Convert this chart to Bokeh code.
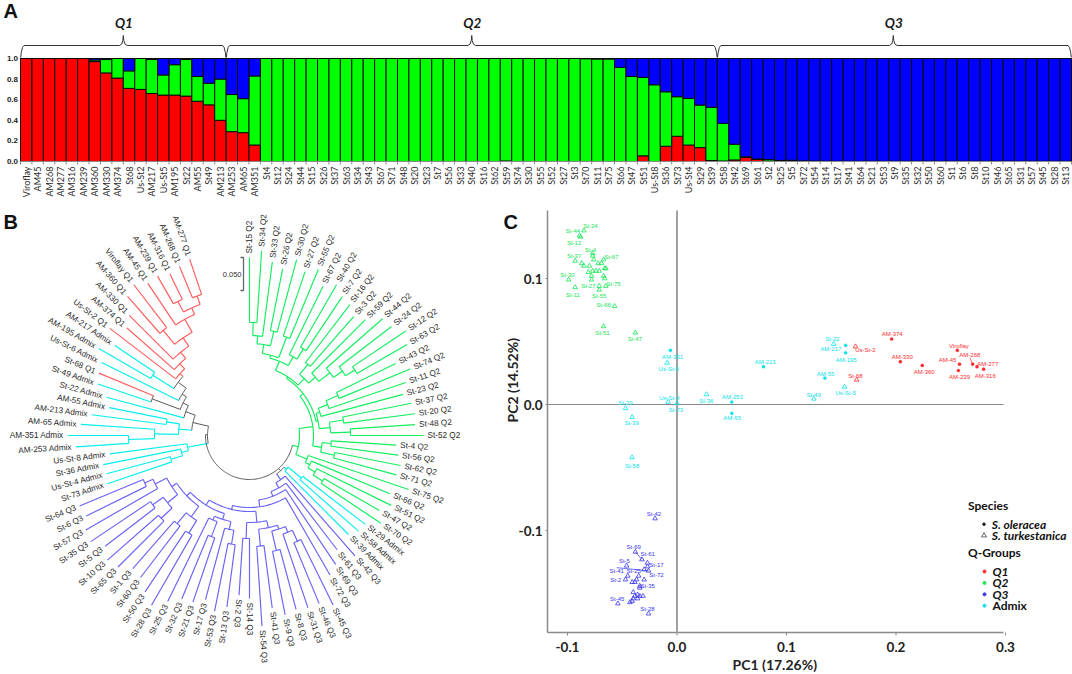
import math
from bokeh.plotting import figure
from bokeh.layouts import column, row
from bokeh.models import Range1d
from bokeh.core.properties import value
from bokeh.embed import file_html
from bokeh.resources import INLINE

# ---------- Panel A data ----------
acc_names = ["Viroflay","AM45","AM268","AM277","AM316","AM239","AM360","AM330","AM374","St68","Us-St2","AM217","Us-St5","AM195","St22","AM55","St49","AM213","AM253","AM65","AM351",
 "St4","St12","St24","St44","St15","St26","St37","St63","St34","St43","St67","St71","St48","St20","St23","St7","St56","St33","St40","St16","St62","St59","St74","St30","St55","St52","St27","St3","St70","St11","St75","St66","St47","St51","Us-St8","St36","St73","Us-St4","St29","St39",
 "St58","St42","St69","St61","St2","St25","St5","St72","St54","St14","St17","St41","St64","St21","St53","St9","St35","St32","St50","St60","St1","St6","St8","St10","St46","St65","St31","St57","St45","St28","St13"]
q1_frac = [1,1,1,1,1,1,.97,.86,.81,.71,.70,.66,.645,.645,.635,.585,.55,.40,.29,.28,.16] + [0]*21 + [.005,0,0,0,0,0,0,0,0,0,0,0,.055,0,.148,.245,.16,.135,.01,.005,.015,.04,.02,.005,0,.005,0] + [0]*24
q12_top = [1,1,1,1,1,1,.985,.99,1,.88,1,.99,.84,.94,.99,.825,.76,.80,.65,.61,.83] + [1]*28 + [.998,.995,.995,.913,.826,.816,.745,.677,.629,.613,.548,.526,.37,.168,.045,.025,.02,.01,.012,.006,.004,.003] + [.002]*21
y_ticks_a = [0.0, 0.2, 0.4, 0.6, 0.8, 1.0]
q_names = ["Q1","Q2","Q3"]
brace_start = [-0.5, 17.5, 60.5]
brace_end = [17.5, 60.5, 91.5]
brace_peak = [8.5, 39.0, 75.9]

# ---------- Panel B data ----------
leaf_names = ["St-15","St-34","St-33","St-26","St-30","St-27","St-55","St-67","St-40","St-7","St-16","St-3","St-59","St-44","St-24","St-12","St-63","St-43","St-74","St-11","St-23","St-37","St-20","St-48","St-52","St-4","St-56","St-62","St-71","St-75","St-66","St-51","St-47","St-70",
 "St-29","St-58","St-39",
 "St-42","St-61","St-69","St-72","St-45","St-46","St-31","St-8","St-9","St-41","St-54","St-14","St-2","St-13","St-53","St-17","St-21","St-32","St-25","St-28","St-50","St-60","St-1","St-65","St-10","St-5","St-35","St-57","St-6","St-64",
 "St-73","Us-St-4","St-36","Us-St-8","AM-253","AM-351","AM-65","AM-213","AM-55","St-22","St-49","St-68","Us-St-6","AM-195","AM-217","Us-St-2","AM-374","AM-330","AM-360","Viroflay","AM-45","AM-239","AM-316","AM-268","AM-277"]
leaf_groups = ["Q2"]*34 + ["Admix"]*3 + ["Q3"]*30 + ["Admix"]*10 + ["Admix","Q1","Admix","Admix","Admix","Q1"] + ["Q1"]*9
leaf_tip = [178,185,175,170,182,173,180,166,174,167,165,158,164,177,179,188,182,163,174,165,159,165,167,166,174,147,150,154,152,168,152,158,150,158,
 146,145,140,
 160,144,155,161,189,182,182,180,183,174,191,163,160,173,179,170,176,177,185,196,188,179,177,186,189,182,191,189,182,184,
 150,148,149,141,174,182,169,159,143,148,160,163,165,174,162,176,163,170,185,190,183,184,180,183,186]

def N(r, *kids, theta=None):
    return {"r": r, "kids": kids, "theta": theta}

t4 = N(92, N(100, N(113, "St-15", "St-34"), "St-33"), N(107, "St-26", "St-30"))
t9 = N(80, N(83, t4, N(105, "St-27", "St-55")), N(90, "St-67", N(102, "St-40", "St-7")))
u6 = N(79, N(92, "St-16", "St-3"), N(88, "St-59", N(102, "St-44", N(113, "St-24", N(124, "St-12", "St-63")))))
w7 = N(70, N(74, N(84, N(97, "St-43", "St-74"), "St-11"), "St-23"), N(81, N(95, "St-37", "St-20"), N(101, "St-48", "St-52")))
y3 = N(73, N(82, "St-4", "St-56"), N(87, "St-62", "St-71"))
z4 = N(62, "St-75", N(67, "St-66", N(75, "St-51", N(86, "St-47", "St-70"))))
green = N(50, N(64, N(68, N(70, t9, u6), w7, theta=52), y3, theta=82), z4, theta=103)

admix_a = N(50, N(67, "St-29", "St-58"), "St-39")
q_b = N(87, N(94, N(98, N(104, N(116, "St-45", "St-46"), "St-31"), N(118, "St-8", "St-9")), N(111, "St-41", "St-54")), N(103, "St-14", "St-2"))
q_a = N(100, N(115, "St-28", "St-50"), N(114, "St-60", "St-1"))
q_d = N(106, N(121, "St-65", "St-10"), N(119, "St-5", "St-35"))
q_e = N(106, "St-57", N(115, "St-6", "St-64"))
q_c = N(88, N(96, N(110, "St-13", "St-53"), "St-17"), N(92, N(108, "St-21", "St-32"), "St-25"))
q_h = N(82, q_c, N(87, q_a, N(93, q_d, q_e)))
q3 = N(54, "St-42", N(60, "St-61", N(65, "St-69", N(72, "St-72", N(76, q_b, q_h)))))
right_low = N(47, admix_a, q3)

red = N(93, "Us-St-2", N(100, "AM-374", N(108, "AM-330", N(118, N(136, "AM-360", "Viroflay"), N(133, "AM-45", N(140, N(152, "AM-239", "AM-316"), N(149, "AM-268", "AM-277")))))))
up = N(68, N(74, N(79, N(89, N(114, "AM-195", "AM-217"), red), "Us-St-6"), N(104, "St-49", "St-68")), "St-22")
am = N(71, N(95, N(121, "AM-253", "AM-351"), "AM-65"), N(84, "AM-213", "AM-55"))
left = N(42, N(63, N(70, N(82, "St-73", "Us-St-4"), "St-36"), "Us-St-8"), N(58, am, up))
root = N(44, green, right_low, left)

scale_bar_dist = 0.050
tree_units_per_dist = 660

# ---------- Panel C data ----------
pc1_ticks = [-0.1, 0.0, 0.1, 0.2, 0.3]
pc2_ticks = [-0.1, 0.0, 0.1]
q1_ole_x = [0.196,0.204,0.224,0.256,0.258,0.257,0.270,0.274,0.280]
q1_ole_y = [0.052,0.034,0.031,0.043,0.032,0.027,0.032,0.030,0.028]
q1_tur_x = [0.163,0.164]
q1_tur_y = [0.046,0.0196]
q2_tur_x = [-0.085,-0.089,-0.088,-0.077,-0.077,-0.076,-0.093,-0.087,-0.085,-0.080,-0.072,-0.069,-0.067,-0.066,-0.065,-0.081,-0.077,-0.074,-0.071,-0.078,-0.067,-0.066,-0.078,-0.099,-0.071,-0.065,-0.093,-0.071,-0.057,-0.067,-0.038]
q2_tur_y = [0.138,0.134,0.133,0.120,0.118,0.115,0.114,0.112,0.110,0.110,0.112,0.112,0.115,0.108,0.108,0.105,0.106,0.106,0.106,0.102,0.102,0.100,0.099,0.099,0.094,0.094,0.093,0.091,0.078,0.062,0.057]
q3_tur_x = [-0.020,-0.038,-0.032,-0.046,-0.027,-0.027,-0.030,-0.026,-0.045,-0.035,-0.047,-0.030,-0.037,-0.0385,-0.041,-0.034,-0.034,-0.040,-0.036,-0.031,-0.034,-0.0385,-0.040,-0.036,-0.041,-0.043,-0.054,-0.026]
q3_tur_y = [-0.0905,-0.117,-0.123,-0.128,-0.1257,-0.1286,-0.131,-0.132,-0.136,-0.136,-0.139,-0.139,-0.139,-0.141,-0.141,-0.144,-0.1455,-0.149,-0.151,-0.152,-0.152,-0.152,-0.154,-0.154,-0.156,-0.157,-0.158,-0.166]
ad_ole_x = [-0.006,0.050,0.050,0.079,0.154,0.154,0.135]
ad_ole_y = [0.043,0.002,-0.007,0.030,0.047,0.041,0.021]
ad_tur_x = [-0.009,-0.008,0.000,0.027,-0.047,-0.041,-0.041,0.143,0.153,0.125]
ad_tur_y = [0.033,0.002,0.001,0.008,-0.003,-0.010,-0.042,0.048,0.014,0.0045]

q1_lab = ["Us-St-2","St-68","AM-374","AM-330","AM-360","Viroflay","AM-45","AM-239","AM-268","AM-277","AM-316"]
q1_lab_x = [0.172,0.163,0.1965,0.2057,0.2257,0.2574,0.247,0.258,0.2674,0.2838,0.2815]
q1_lab_y = [0.043,0.023,0.0556,0.038,0.0256,0.0466,0.0355,0.022,0.039,0.032,0.023]
q2_lab = ["St-24","St-44","St-12","St-4","St-37","St-67","St-30","St-75","St-27","St-11","St-55","St-66","St-51","St-47"]
q2_lab_x = [-0.079,-0.095,-0.094,-0.079,-0.094,-0.060,-0.100,-0.058,-0.081,-0.095,-0.071,-0.067,-0.068,-0.0385]
q2_lab_y = [0.1415,0.138,0.128,0.123,0.118,0.117,0.103,0.096,0.094,0.087,0.0865,0.0786,0.057,0.052]
q3_lab = ["St-42","St-69","St-61","St-5","St-17","St-25","St-72","St-41","St-2","St-35","St-45","St-28"]
q3_lab_x = [-0.021,-0.0395,-0.0267,-0.048,-0.0187,-0.0395,-0.0187,-0.055,-0.056,-0.0267,-0.0546,-0.027]
q3_lab_y = [-0.087,-0.1127,-0.119,-0.124,-0.127,-0.1325,-0.135,-0.132,-0.139,-0.144,-0.154,-0.162]
ad_lab = ["AM-351","Us-St-8","Us-St-4","St-73","St-36","AM-253","AM-65","St-29","St-39","St-58","AM-213","St-22","AM-217","AM-195","AM-55","Us-St-5","St-49"]
ad_lab_x = [-0.004,-0.0075,-0.007,-0.001,0.0267,0.0507,0.0504,-0.047,-0.0415,-0.041,0.0805,0.142,0.1405,0.1545,0.1356,0.154,0.1247]
ad_lab_y = [0.0375,0.028,0.005,-0.004,0.0026,0.0058,-0.011,0.001,-0.015,-0.049,0.034,0.052,0.044,0.0357,0.024,0.009,0.0077]
pc_groups = ["Q1","Q2","Q3","Admix"]
species_names = ["S. oleracea","S. turkestanica"]
pc1_title = "PC1  (17.26%)"
pc2_title = "PC2  (14.52%)"

BAR_RED, BAR_GREEN, BAR_BLUE = "#ff0000", "#00ff00", "#0000ff"
TREE_COL = {"Q1": "#ff5c5c", "Q2": "#12ee5e", "Q3": "#6a62f5", "Admix": "#06eeee", None: "#5a5a5a"}
PC_COL = {"Q1": "#ff2a2a", "Q2": "#12e452", "Q3": "#3a36f0", "Admix": "#08e2e8"}
CAL = value("Lato")
ARI = value("Liberation Sans")
COMMON = dict(output_backend="svg", toolbar_location=None, outline_line_color=None,
              x_axis_type=None, y_axis_type=None, min_border=0)

# ---------- Panel A ----------
PX_A = 103.0
bar_px = 1051 / 92.0
pa = figure(width=1072, height=198, x_range=Range1d(-0.5 - 20 / bar_px, 91.5 + 1 / bar_px),
            y_range=Range1d(-37 / PX_A, 161 / PX_A), **COMMON)
pa.grid.visible = False
xs = list(range(len(acc_names)))
pa.vbar(x=xs, bottom=0, top=q1_frac, width=1, fill_color=BAR_RED, line_color="#0a0a0a", line_width=1)
pa.vbar(x=xs, bottom=q1_frac, top=q12_top, width=1, fill_color=BAR_GREEN, line_color="#0a0a0a", line_width=1)
pa.vbar(x=xs, bottom=q12_top, top=1, width=1, fill_color=BAR_BLUE, line_color="#0a0a0a", line_width=1)
u = 1 / bar_px; v = 1 / PX_A
edges = [i - 0.5 for i in range(len(acc_names) + 1)]
pa.segment(x0=edges, y0=[0] * len(edges), x1=edges, y1=[-3 * v] * len(edges), line_color="#888888", line_width=1)
pa.line([edges[0], edges[-1]], [0, 0], line_color="#888888", line_width=1)
pa.text(xs, [-5 * v] * len(xs), text=acc_names, angle=[math.pi / 2] * len(xs), text_font=CAL, text_font_size="9px",
        text_align="right", text_baseline="middle", text_color="#2a2a2a")
pa.text([-0.5 - 2.5 * u] * len(y_ticks_a), y_ticks_a, text=["%.1f" % t for t in y_ticks_a], text_font=ARI, text_font_style="bold",
        text_font_size="8px", text_align="right", text_baseline="middle", text_color="#222222")
pa.text([-0.5 - 17 * u], [(161 - 10.5) * v], text=["A"], text_font=ARI, text_font_style="bold", text_font_size="20px",
        text_align="left", text_baseline="middle", text_color="#111111")
for s, e, c, q in zip(brace_start, brace_end, brace_peak, q_names):
    yb = (161 - 45) * v
    bx = [s + .2*u, s + .8*u, s + 2*u, s + 3.5*u, c - 3.8*u, c - 1.6*u, c - .5*u, c, c + .5*u, c + 1.6*u, c + 3.8*u, e - 3.5*u, e - 2*u, e - .8*u, e - .2*u]
    by = [1.0 + 1*v, yb - 7*v, yb - 2*v, yb, yb, yb + 1.5*v, yb + 5*v, yb + 10*v, yb + 5*v, yb + 1.5*v, yb, yb, yb - 2*v, yb - 7*v, 1.0 + 1*v]
    pa.line(bx, by, line_color="#333333", line_width=1)
    pa.text([c + 0.05], [(161 - 22) * v], text=[q], text_font=CAL, text_font_style="bold italic",
            text_font_size="13.5px", text_align="center", text_baseline="middle", text_color="#1a1a1a")

# ---------- Panel B ----------
pb = figure(width=500, height=476, x_range=Range1d(-249, 251), y_range=Range1d(-239, 237), **COMMON)
pb.grid.visible = False
STEP = 3.75
idx = {n: i for i, n in enumerate(leaf_names)}
tip = dict(zip(leaf_names, leaf_tip))
grp = dict(zip(leaf_names, leaf_groups))

def pol(r, th):
    a = math.radians(th)
    return r * math.sin(a), r * math.cos(a)

segs = {k: ([], []) for k in TREE_COL}

def add(col, pts):
    segs[col][0].append([p[0] for p in pts])
    segs[col][1].append([p[1] for p in pts])

def walk(n, parent_r):
    if isinstance(n, str):
        th = idx[n] * STEP
        col = grp[n]
        add(col, [pol(parent_r, th), pol(tip[n], th)])
        return th, col
    res = [walk(k, n["r"]) for k in n["kids"]]
    angs = [r[0] for r in res]
    cols = set(r[1] for r in res)
    col = cols.pop() if len(cols) == 1 else None
    lo, hi = min(angs), max(angs)
    th = n["theta"] if n["theta"] is not None else (lo + hi) / 2
    cnt = max(2, int((hi - lo) / 1.5) + 2)
    add(col, [pol(n["r"], lo + (hi - lo) * i / (cnt - 1)) for i in range(cnt)])
    if parent_r is not None:
        add(col, [pol(parent_r, th), pol(n["r"], th)])
    return th, col

walk(root, None)
for col, (mx, my) in segs.items():
    if mx:
        pb.multi_line(mx, my, line_color=TREE_COL[col], line_width=1.15 if col else 1.0)

rx, ry, rt, ra, lx_, ly_, lt, la = [], [], [], [], [], [], [], []
for i, n in enumerate(leaf_names):
    th = i * STEP
    x, y = pol(tip[n] + 4, th)
    lab = n + " " + leaf_groups[i]
    if th < 186:
        rx.append(x); ry.append(y); rt.append(lab); ra.append(math.radians(90 - th))
    else:
        lx_.append(x); ly_.append(y); lt.append(lab); la.append(math.radians(270 - th))
pb.text(rx, ry, text=rt, angle=ra, text_font=ARI, text_font_size="8.2px", text_align="left", text_baseline="middle", text_color="#2a2a2a")
pb.text(lx_, ly_, text=lt, angle=la, text_font=ARI, text_font_size="8.2px", text_align="right", text_baseline="middle", text_color="#2a2a2a")

bar_len = scale_bar_dist * tree_units_per_dist
sx, sy = -6, 178
pb.line([sx - 3, sx, sx, sx - 3], [sy, sy, sy - bar_len, sy - bar_len], line_color="#666666", line_width=1.3)
pb.text([sx - 2], [sy - bar_len / 2], text=["%.3f" % scale_bar_dist], text_font=ARI, text_font_size="7.5px",
        text_align="right", text_baseline="middle", text_color="#333333")
pb.text([-246], [435 - 221], text=["B"], text_font=ARI, text_font_style="bold", text_font_size="20px",
        text_align="left", text_baseline="middle", text_color="#111111")

# ---------- Panel C ----------
SX, SY = 1095.0, 1260.0
def dx(px): return (px - 676.5) / SX
def dy(py): return (404 - py) / SY
pc = figure(width=572, height=476, x_range=Range1d(dx(500), dx(1072)), y_range=Range1d(dy(674), dy(198)), **COMMON)
pc.grid.visible = False
AX = "#8a8a8a"
pc.line([dx(547), dx(1003)], [dy(632), dy(632)], line_color=AX, line_width=1.5)
pc.line([dx(547), dx(547)], [dy(632), dy(210)], line_color=AX, line_width=1.5)
pc.segment(x0=pc1_ticks, y0=[dy(632)] * 5, x1=pc1_ticks, y1=[dy(635)] * 5, line_color=AX, line_width=1)
pc.segment(x0=[dx(547)] * 3, y0=pc2_ticks, x1=[dx(545)] * 3, y1=pc2_ticks, line_color=AX, line_width=1)
pc.text(pc1_ticks, [dy(646)] * 5, text=["%.1f" % t for t in pc1_ticks], text_font=CAL, text_font_style="bold",
        text_font_size="13.5px", text_align="center", text_baseline="middle", text_color="#222222")
pc.text([dx(542)] * 3, pc2_ticks, text=["%.1f" % t for t in pc2_ticks], text_font=CAL, text_font_style="bold",
        text_font_size="13.5px", text_align="right", text_baseline="middle", text_color="#222222")
pc.text([dx(776)], [dy(664)], text=[pc1_title], text_font=CAL, text_font_style="bold", text_font_size="14px",
        text_align="center", text_baseline="middle", text_color="#222222")
pc.text([dx(512)], [dy(378)], text=[pc2_title], angle=[math.pi / 2], text_font=CAL, text_font_style="bold",
        text_font_size="14px", text_align="center", text_baseline="middle", text_color="#222222")
pc.text([dx(503)], [dy(221)], text=["C"], text_font=ARI, text_font_style="bold", text_font_size="20px",
        text_align="left", text_baseline="middle", text_color="#111111")
pc.line([0, 0], [dy(632), dy(210)], line_color="#a0a0a0", line_width=2)
pc.line([dx(547), dx(1003)], [0, 0], line_color="#888888", line_width=1.2)

def tri(x, y, c):
    pc.scatter(x, y, marker="triangle", size=4.6, fill_color=None, line_color=c, line_width=0.8)
def dot(x, y, c):
    pc.scatter(x, y, marker="circle", size=3.2, fill_color=c, line_color=c, line_width=0.3)
tri(q1_tur_x, q1_tur_y, PC_COL["Q1"]); dot(q1_ole_x, q1_ole_y, PC_COL["Q1"])
tri(q2_tur_x, q2_tur_y, PC_COL["Q2"]); tri(q3_tur_x, q3_tur_y, PC_COL["Q3"])
tri(ad_tur_x, ad_tur_y, PC_COL["Admix"]); dot(ad_ole_x, ad_ole_y, PC_COL["Admix"])

for names, lx, ly, g in [(q1_lab, q1_lab_x, q1_lab_y, "Q1"), (q2_lab, q2_lab_x, q2_lab_y, "Q2"),
                         (q3_lab, q3_lab_x, q3_lab_y, "Q3"), (ad_lab, ad_lab_x, ad_lab_y, "Admix")]:
    pc.text(lx, ly, text=names, text_font=ARI, text_font_size="6px", text_align="center",
            text_baseline="middle", text_color=PC_COL[g])

pc.segment(x0=[-0.038, -0.055], y0=[-0.117, -0.1295], x1=[-0.032, -0.026], y1=[-0.123, -0.132], line_color=PC_COL["Q3"], line_width=0.7)
pc.segment(x0=[0.2674], y0=[0.037], x1=[0.270], y1=[0.032], line_color=PC_COL["Q1"], line_width=0.7)

def ltext(px, py, s, style="bold", size="12px"):
    pc.text([dx(px)], [dy(py)], text=[s], text_font=CAL, text_font_style=style, text_font_size=size,
            text_align="left", text_baseline="middle", text_color="#111111")

ltext(967.5, 505, "Species")
pc.scatter([dx(983.5)], [dy(523.7)], marker="circle", size=2.6, fill_color="#222222", line_color="#222222")
pc.scatter([dx(983.5)], [dy(535)], marker="triangle", size=5, fill_color=None, line_color="#444444", line_width=0.8)
ltext(991.3, 523.7, species_names[0], "bold italic")
ltext(991.3, 535, species_names[1], "bold italic")
ltext(967.5, 552, "Q-Groups")
for i, g in enumerate(pc_groups):
    py = 571 + i * 11.4
    pc.scatter([dx(984)], [dy(py)], marker="circle", size=3, fill_color=PC_COL[g], line_color=PC_COL[g])
    ltext(992, py, g, "bold" if g == "Admix" else "bold italic")

layout = column(pa, row(pb, pc, spacing=0), spacing=0)
open("out.html", "w").write(file_html(layout, INLINE))
